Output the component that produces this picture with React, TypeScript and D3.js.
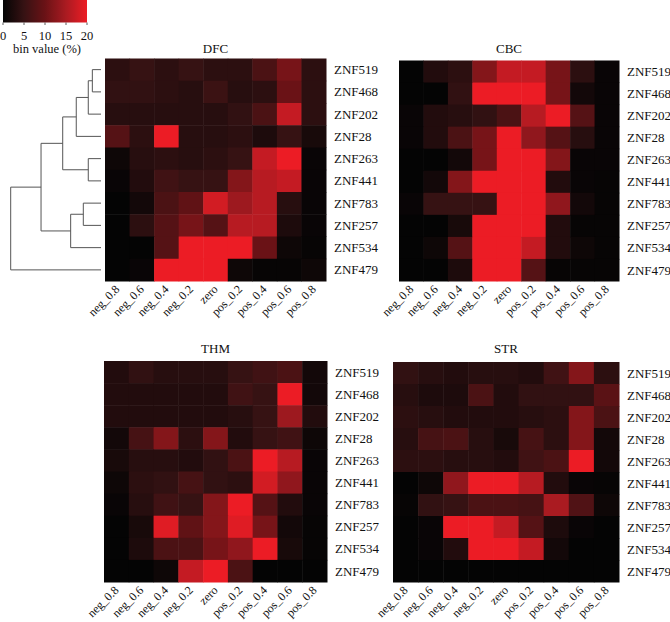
import React from "react";
import * as d3 from "d3";

const rows = ["ZNF519", "ZNF468", "ZNF202", "ZNF28", "ZNF263", "ZNF441", "ZNF783", "ZNF257", "ZNF534", "ZNF479"];
const cols = ["neg_0.8", "neg_0.6", "neg_0.4", "neg_0.2", "zero", "pos_0.2", "pos_0.4", "pos_0.6", "pos_0.8"];

const dfcValues = [
  [4, 5, 4, 5, 4, 4, 7, 11, 4],
  [4.5, 4.5, 4, 3.5, 5.5, 3.5, 4, 10, 4],
  [3.5, 3.5, 3.5, 3.5, 3.5, 4.5, 7, 17, 4],
  [8, 4, 20, 3.5, 3.5, 4, 2.5, 5, 2],
  [1, 3.5, 4, 3.5, 4, 5, 17, 20, 0.5],
  [0.5, 3, 6, 5, 5, 12, 16, 17, 0.5],
  [0, 1.5, 7, 9, 18, 14, 16, 3.5, 0.5],
  [0, 4, 8, 11, 8, 16, 16, 2.5, 0.5],
  [0, 0, 8, 20, 20, 20, 10, 1, 0.3],
  [0, 0.5, 20, 20, 20, 1, 0.3, 0.3, 1],
];
const cbcValues = [
  [0, 3, 4, 12, 17, 17, 11, 4, 0.5],
  [0, 0, 4.5, 20, 20, 20, 11, 1.5, 0.5],
  [0.5, 3, 3.5, 4.5, 7, 16, 20, 8, 0.5],
  [0.5, 3, 7, 11, 20, 13, 8, 3.5, 0.5],
  [0, 0, 1.5, 11, 20, 20, 12, 0.5, 0.5],
  [0, 1.5, 12, 20, 20, 20, 3, 0.5, 0.3],
  [0.5, 5, 5, 5, 20, 20, 13, 1.5, 0.3],
  [0, 0, 2, 20, 20, 20, 3, 0.3, 0.3],
  [0, 1, 8, 20, 20, 17, 3, 1, 0.3],
  [0, 0, 2.5, 20, 20, 8, 0.3, 0.3, 0.3],
];
const thmValues = [
  [3, 4.5, 3.5, 3.5, 3.5, 5, 6, 7, 1.5],
  [3, 3, 3, 3, 3, 6, 5, 20, 1.5],
  [3, 3, 3, 3, 3, 3.5, 5, 14, 3],
  [1.5, 6.5, 12, 4, 12, 3, 5, 6, 1],
  [2, 3.5, 3.5, 3, 4.5, 7, 20, 16, 0.5],
  [1, 4, 4.5, 6.5, 4.5, 4, 18, 13, 0.5],
  [0.5, 3.5, 6, 5, 12, 20, 8, 3, 0.5],
  [0, 2, 19, 9, 12, 19, 11, 1.5, 0.3],
  [0, 2.5, 7, 7, 11, 13, 20, 2, 0.3],
  [0, 0, 1, 17, 20, 7, 0, 0, 0],
];
const strValues = [
  [4.5, 3.5, 3, 3.5, 3.5, 3, 6, 12, 4],
  [3.5, 2.5, 2.5, 7, 3, 4.5, 4.5, 4.5, 8.5],
  [4, 3.5, 3, 3, 3, 3.5, 4, 12, 7],
  [3.5, 6.5, 7, 3.5, 2, 6.5, 4, 12, 1.5],
  [4, 4, 3.5, 3.5, 3, 6, 7, 20, 1.5],
  [0, 1, 13, 20, 20, 16, 3, 0.5, 0.3],
  [0.3, 4.5, 5, 7, 7, 6.5, 15, 7.5, 1],
  [0, 0.5, 20, 20, 17, 8, 2.5, 0.5, 0],
  [0, 0.5, 3, 20, 20, 17, 1.5, 0, 0],
  [0, 0, 0, 0, 0, 0, 0, 0, 0],
];

const panelNames = ["DFC", "CBC", "THM", "STR"];
const panelValues = [dfcValues, cbcValues, thmValues, strValues];

const legendTicks = [0, 5, 10, 15, 20];
const colorStops = [0, 5, 10, 15, 20];
const colorRange = ["#040404", "#361213", "#6a1216", "#aa1b21", "#ec1c25"];

// dendrogram merges: [left, right, height]
const dendroMerges: [string, string, number][] = [
  ["ZNF519", "ZNF468", 0.096],
  ["m0", "ZNF202", 0.141],
  ["m1", "ZNF28", 0.274],
  ["ZNF263", "ZNF441", 0.141],
  ["m2", "m3", 0.424],
  ["ZNF783", "ZNF257", 0.196],
  ["m5", "ZNF534", 0.336],
  ["m4", "m6", 0.664],
  ["m7", "ZNF479", 1.0],
];

const FONT = "Liberation Serif, Tinos, Times New Roman, DejaVu Serif, serif";

const boxes = [
  { x: 105, y: 58.5, w: 221, h: 222.5 },
  { x: 399, y: 60.5, w: 220, h: 220.5 },
  { x: 104, y: 361, w: 223, h: 221 },
  { x: 393, y: 362, w: 226, h: 220 },
];
const titleY = [53, 53, 352.5, 352.5];

export default function App() {
  const color = d3.scaleLinear<string>().domain(colorStops).range(colorRange).clamp(true);

  const heatmaps = panelNames.map((name, pi) => {
    const b = boxes[pi];
    const xs = d3.scaleBand().domain(cols).range([b.x, b.x + b.w]);
    const ys = d3.scaleBand().domain(rows).range([b.y, b.y + b.h]);
    const vals = panelValues[pi];
    return (
      <g key={name}>
        {rows.map((r, ri) =>
          cols.map((c, ci) => (
            <rect
              key={r + c}
              x={xs(c)!}
              y={ys(r)!}
              width={xs.bandwidth() + 0.5}
              height={ys.bandwidth() + 0.5}
              fill={color(vals[ri][ci])}
            />
          ))
        )}
        <text x={b.x + b.w / 2} y={titleY[pi]} textAnchor="middle" fontSize={13} fill="#111">
          {name}
        </text>
        {rows.map((r) => (
          <text
            key={"rl" + r}
            x={b.x + b.w + 8}
            y={ys(r)! + ys.bandwidth() / 2}
            dy="0.35em"
            fontSize={13}
            fill="#111"
          >
            {r}
          </text>
        ))}
        {cols.map((c) => {
          const cx = xs(c)! + xs.bandwidth() / 2 + 3;
          const cy = b.y + b.h + 9;
          return (
            <text
              key={"cl" + c}
              x={cx}
              y={cy}
              textAnchor="end"
              fontSize={12}
              fill="#111"
              transform={`rotate(-45 ${cx} ${cy})`}
            >
              {c}
            </text>
          );
        })}
      </g>
    );
  });

  // dendrogram
  const b0 = boxes[0];
  const yDen = d3.scaleBand().domain(rows).range([b0.y, b0.y + b0.h]);
  const xDen = d3.scaleLinear().domain([0, 1]).range([101, 10.7]);
  const nodes: Record<string, { y: number; h: number }> = {};
  rows.forEach((r) => (nodes[r] = { y: yDen(r)! + yDen.bandwidth() / 2, h: 0 }));
  const segs: string[] = [];
  dendroMerges.forEach(([a, c, h], i) => {
    const na = nodes[a];
    const nc = nodes[c];
    const x = xDen(h);
    segs.push(`M${xDen(na.h)},${na.y}H${x}V${nc.y}H${xDen(nc.h)}`);
    nodes["m" + i] = { y: (na.y + nc.y) / 2, h };
  });

  // legend
  const lx = d3.scaleLinear().domain([0, 20]).range([3, 87]);
  const gradStops = d3.range(0, 21, 1);

  return (
    <svg
      width={670}
      height={622}
      fontFamily={FONT}
      style={{ position: "absolute", left: 0, top: 0, background: "#fff", fontFamily: FONT }}
    >
      <defs>
        <linearGradient id="lg" x1="0" x2="1" y1="0" y2="0">
          {gradStops.map((v) => (
            <stop key={v} offset={`${(v / 20) * 100}%`} stopColor={color(v)} />
          ))}
        </linearGradient>
      </defs>
      <rect x={lx(0)} y={0} width={lx(20) - lx(0)} height={22.5} fill="url(#lg)" />
      {legendTicks.map((t) => (
        <g key={"lt" + t}>
          <line x1={lx(t)} x2={lx(t)} y1={22.5} y2={25} stroke="#333" strokeWidth={0.8} />
          <text x={lx(t)} y={40} textAnchor="middle" fontSize={12.5} fill="#111">
            {t}
          </text>
        </g>
      ))}
      <text x={47} y={52.5} textAnchor="middle" fontSize={12.5} fill="#111">
        bin value (%)
      </text>
      {segs.map((d, i) => (
        <path key={"dg" + i} d={d} fill="none" stroke="#555" strokeWidth={1} />
      ))}
      {heatmaps}
    </svg>
  );
}
